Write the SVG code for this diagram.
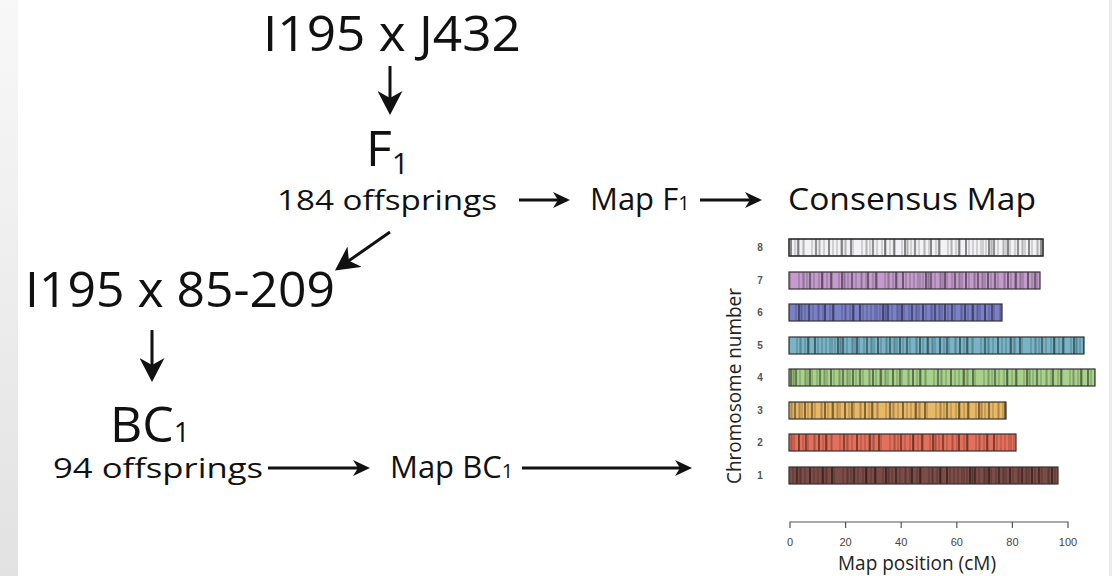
<svg xmlns="http://www.w3.org/2000/svg" xmlns:xlink="http://www.w3.org/1999/xlink" width="1112" height="576" viewBox="0 0 1112 576">
<style>
.big{font-family:"Open Sans","Noto Sans",sans-serif;font-size:50px;fill:#111}
.mid{font-family:"Open Sans","Noto Sans",sans-serif;font-size:31px;fill:#111}
.sm{font-family:"Open Sans","Noto Sans",sans-serif;font-size:28px;fill:#111}
.conn{stroke:#111;stroke-width:3;fill:none}
.bar{stroke:#333;stroke-width:1.2}
.rowl{font-family:"Liberation Sans",Arial,sans-serif;font-size:10px;font-weight:bold;fill:#555;text-anchor:middle}
.tick{font-family:"Liberation Sans",Arial,sans-serif;font-size:11px;fill:#444;text-anchor:middle}
.axt{font-family:"Open Sans","Noto Sans",sans-serif;font-size:20px;fill:#222}
</style>
<defs>
<linearGradient id="edge" x1="0" y1="0" x2="0" y2="1"><stop offset="0" stop-color="#f8f8f8"/><stop offset="1" stop-color="#e2e2e2"/></linearGradient>
<marker id="hb" viewBox="0 0 24 25" markerWidth="24" markerHeight="25" markerUnits="userSpaceOnUse" refX="12" refY="12.5" orient="auto"><path d="M0 0L24 12.5L0 25L7 12.5Z" fill="#111"/></marker>
<marker id="hs" viewBox="0 0 17 16" markerWidth="17" markerHeight="16" markerUnits="userSpaceOnUse" refX="8" refY="8" orient="auto"><path d="M0 0L17 8L0 16L5 8Z" fill="#111"/></marker>
<pattern id="st" patternUnits="userSpaceOnUse" width="320" height="20">
<path d="M2 0v20M4 0v20M7 0v20M12 0v20M13 0v20M19 0v20M24 0v20M25 0v20M27 0v20M31 0v20M36 0v20M43 0v20M44 0v20M46 0v20M53 0v20M58 0v20M59 0v20M66 0v20M67 0v20M69 0v20M75 0v20M82 0v20M88 0v20M89 0v20M95 0v20M99 0v20M104 0v20M105 0v20M107 0v20M116 0v20M121 0v20M127 0v20M128 0v20M136 0v20M140 0v20M144 0v20M145 0v20M153 0v20M160 0v20M161 0v20M165 0v20M174 0v20M178 0v20M182 0v20M186 0v20M187 0v20M194 0v20M203 0v20M207 0v20M208 0v20M211 0v20M218 0v20M223 0v20M227 0v20M231 0v20M236 0v20M243 0v20M248 0v20M249 0v20M252 0v20M260 0v20M265 0v20M266 0v20M270 0v20M277 0v20M281 0v20M289 0v20M292 0v20M293 0v20M297 0v20M301 0v20M310 0v20M314 0v20M318 0v20" stroke="#000" stroke-opacity="0.28" stroke-width="1"/>
<path d="M15 0v20M39 0v20M62 0v20M79 0v20M100 0v20M119 0v20M139 0v20M157 0v20M183 0v20M214 0v20M235 0v20M256 0v20M280 0v20M300 0v20" stroke="#000" stroke-opacity="0.4" stroke-width="2.2"/>
<path d="M10 0v20M29 0v20M50 0v20M72 0v20M92 0v20M112 0v20M132 0v20M170 0v20M192 0v20M226 0v20M246 0v20M272 0v20M307 0v20" stroke="#000" stroke-opacity="0.75" stroke-width="1.2"/>
</pattern>
<pattern id="s1" href="#st" x="0"/>
<pattern id="s2" href="#st" x="47"/>
<pattern id="s3" href="#st" x="93"/>
<pattern id="s4" href="#st" x="141"/>
<pattern id="s5" href="#st" x="188"/>
<pattern id="s6" href="#st" x="233"/>
<pattern id="s7" href="#st" x="276"/>
<pattern id="s8" href="#st" x="19"/>
</defs>
<rect width="1112" height="576" fill="#fff"/>
<rect x="0" y="0" width="18" height="576" fill="url(#edge)"/>
<rect x="1109" y="0" width="3" height="576" fill="#ececec"/>

<g id="connectors">
<line class="conn" x1="390" y1="66" x2="390" y2="103" marker-end="url(#hb)"/>
<line class="conn" x1="390" y1="232" x2="344.8" y2="263.6" marker-end="url(#hb)"/>
<line class="conn" x1="152" y1="330" x2="152" y2="370" marker-end="url(#hb)"/>
<line class="conn" x1="519" y1="200" x2="561" y2="200" marker-end="url(#hs)"/>
<line class="conn" x1="700" y1="200" x2="753" y2="200" marker-end="url(#hs)"/>
<line class="conn" x1="268" y1="468" x2="361" y2="468" marker-end="url(#hs)"/>
<line class="conn" x1="522" y1="468" x2="683" y2="468" marker-end="url(#hs)"/>
</g>

<g id="cross1"><text class="big" x="263" y="51" textLength="258" lengthAdjust="spacingAndGlyphs">I195 x J432</text></g>
<g id="f1"><text class="big" x="366" y="166">F<tspan font-size="30" dy="8">1</tspan></text></g>
<g id="off184"><text class="sm" x="277" y="210" textLength="220" lengthAdjust="spacingAndGlyphs">184 offsprings</text></g>
<g id="mapf1"><text class="mid" x="590" y="210">Map F<tspan font-size="20">1</tspan></text></g>
<g id="consensus"><text class="mid" x="788" y="210" textLength="248" lengthAdjust="spacingAndGlyphs">Consensus Map</text></g>
<g id="cross2"><text class="big" x="25" y="307" textLength="310" lengthAdjust="spacingAndGlyphs">I195 x 85-209</text></g>
<g id="bc1"><text class="big" x="110" y="442">BC<tspan font-size="28">1</tspan></text></g>
<g id="off94"><text class="sm" x="53" y="478" textLength="210" lengthAdjust="spacingAndGlyphs">94 offsprings</text></g>
<g id="mapbc1"><text class="mid" x="390" y="478">Map BC<tspan font-size="20">1</tspan></text></g>

<g id="chart">
<rect class="bar" x="789" y="239" width="254" height="17" fill="#f2f2f6"/><rect x="789" y="239" width="254" height="17" fill="url(#s8)"/><rect class="bar" x="789" y="239" width="254" height="17" fill="none"/>
<rect x="789" y="272" width="251" height="17" fill="#c49bcc"/><rect x="789" y="272" width="251" height="17" fill="url(#s7)"/><rect class="bar" x="789" y="272" width="251" height="17" fill="none"/>
<rect x="789" y="304" width="213" height="17" fill="#7b80c8"/><rect x="789" y="304" width="213" height="17" fill="url(#s6)"/><rect class="bar" x="789" y="304" width="213" height="17" fill="none"/>
<rect x="789" y="337" width="295" height="17" fill="#78b4c6"/><rect x="789" y="337" width="295" height="17" fill="url(#s5)"/><rect class="bar" x="789" y="337" width="295" height="17" fill="none"/>
<rect x="789" y="369" width="306" height="17" fill="#a8d18a"/><rect x="789" y="369" width="306" height="17" fill="url(#s4)"/><rect class="bar" x="789" y="369" width="306" height="17" fill="none"/>
<rect x="789" y="402" width="217" height="17" fill="#e9b865"/><rect x="789" y="402" width="217" height="17" fill="url(#s3)"/><rect class="bar" x="789" y="402" width="217" height="17" fill="none"/>
<rect x="789" y="434" width="227" height="17" fill="#e4705a"/><rect x="789" y="434" width="227" height="17" fill="url(#s2)"/><rect class="bar" x="789" y="434" width="227" height="17" fill="none"/>
<rect x="789" y="467" width="269" height="17" fill="#7c4c46"/><rect x="789" y="467" width="269" height="17" fill="url(#s1)"/><rect class="bar" x="789" y="467" width="269" height="17" fill="none"/>
<text class="rowl" x="760" y="251">8</text>
<text class="rowl" x="760" y="284">7</text>
<text class="rowl" x="760" y="316">6</text>
<text class="rowl" x="760" y="349">5</text>
<text class="rowl" x="760" y="381">4</text>
<text class="rowl" x="760" y="414">3</text>
<text class="rowl" x="760" y="446">2</text>
<text class="rowl" x="760" y="479">1</text>
<text class="axt" transform="translate(741,386) rotate(-90)" text-anchor="middle" textLength="196" lengthAdjust="spacingAndGlyphs">Chromosome number</text>
<path d="M790 528V522H1068V528M845.6 522v6M901.2 522v6M956.8 522v6M1012.4 522v6" stroke="#555" stroke-width="1.2" fill="none"/>
<text class="tick" x="790" y="546">0</text>
<text class="tick" x="845.6" y="546">20</text>
<text class="tick" x="901.2" y="546">40</text>
<text class="tick" x="956.8" y="546">60</text>
<text class="tick" x="1012.4" y="546">80</text>
<text class="tick" x="1068" y="546">100</text>
<text class="axt" x="838" y="570" textLength="158" lengthAdjust="spacingAndGlyphs">Map position (cM)</text>
</g>
</svg>
